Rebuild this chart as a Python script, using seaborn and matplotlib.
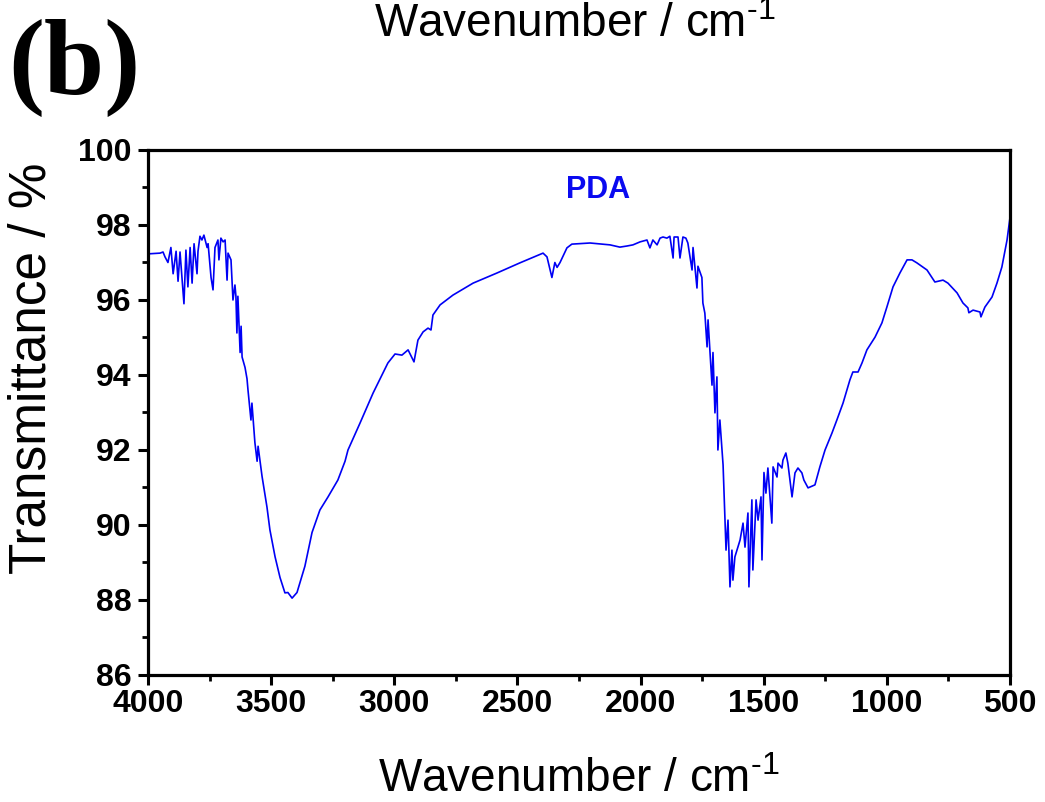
import numpy as np
import pandas as pd
import matplotlib
matplotlib.use("Agg")
import matplotlib.pyplot as plt
from matplotlib.ticker import MultipleLocator
import seaborn as sns

# ---- data ----
wavenumber = [
    4000, 3951, 3939, 3931, 3919, 3907, 3898, 3886, 3878, 3870, 3862, 3854, 3846, 3838,
    3829, 3821, 3813, 3801, 3797, 3789, 3781, 3773, 3760, 3756, 3744, 3736, 3728, 3716,
    3712, 3704, 3695, 3687, 3679, 3675, 3663, 3655, 3647, 3643, 3639, 3635, 3626, 3622,
    3618, 3606, 3598, 3594, 3582, 3578, 3566, 3557, 3553, 3537, 3517, 3505, 3484, 3464,
    3444, 3432, 3415, 3395, 3363, 3334, 3302, 3269, 3229, 3200, 3188, 3139, 3086, 3026,
    2997, 2969, 2944, 2920, 2904, 2883, 2863, 2851, 2843, 2814, 2762, 2680, 2583, 2490,
    2396, 2380, 2360, 2348, 2339, 2327, 2299, 2279, 2205, 2124, 2084, 2055, 2031, 2002,
    1974, 1962, 1950, 1933, 1921, 1909, 1893, 1881, 1868, 1864, 1848, 1840, 1828, 1816,
    1808, 1791, 1787, 1771, 1767, 1751, 1747, 1739, 1730, 1726, 1718, 1710, 1706, 1698,
    1690, 1686, 1678, 1665, 1653, 1645, 1637, 1629, 1625, 1617, 1596, 1584, 1576, 1564,
    1560, 1548, 1544, 1531, 1523, 1511, 1507, 1499, 1491, 1483, 1467, 1462, 1446, 1442,
    1426, 1422, 1410, 1402, 1385, 1373, 1361, 1345, 1337, 1320, 1292, 1272, 1251, 1223,
    1203, 1178, 1150, 1138, 1117, 1101, 1081, 1048, 1020, 1000, 975, 947, 918, 898,
    878, 837, 805, 772, 752, 715, 691, 671, 667, 650, 622, 618, 602, 573,
    553, 533, 520, 512, 500,
]
transmittance = [
    97.23, 97.25, 97.28, 97.15, 97.00, 97.40, 96.70, 97.30, 96.50, 97.28, 96.60, 95.90, 97.33, 96.35,
    97.40, 96.45, 97.50, 96.70, 97.30, 97.70, 97.60, 97.73, 97.40, 97.50, 96.60, 96.27, 97.40, 97.60,
    97.07, 97.65, 97.55, 97.60, 96.53, 97.25, 97.07, 96.00, 96.40, 96.10, 95.12, 96.10, 94.60, 95.30,
    94.48, 94.20, 93.90, 93.60, 92.80, 93.25, 92.20, 91.70, 92.10, 91.30, 90.48, 89.87, 89.15, 88.60,
    88.19, 88.20, 88.05, 88.20, 88.90, 89.80, 90.40, 90.75, 91.20, 91.70, 92.00, 92.72, 93.52, 94.32,
    94.56, 94.53, 94.67, 94.35, 94.93, 95.15, 95.25, 95.20, 95.60, 95.87, 96.13, 96.45, 96.72, 96.99,
    97.25, 97.15, 96.60, 97.00, 96.87, 97.00, 97.39, 97.49, 97.52, 97.47, 97.41, 97.44, 97.47, 97.55,
    97.60, 97.39, 97.60, 97.47, 97.65, 97.68, 97.65, 97.70, 97.12, 97.68, 97.68, 97.12, 97.68, 97.65,
    97.52, 96.80, 97.40, 96.32, 96.90, 96.60, 95.92, 95.65, 94.75, 95.47, 94.60, 93.73, 94.60, 92.99,
    93.95, 92.00, 92.80, 91.60, 89.33, 90.13, 88.35, 89.33, 88.53, 89.15, 89.60, 90.05, 89.41, 90.32,
    88.35, 90.67, 88.80, 90.67, 90.13, 90.75, 89.07, 91.40, 90.85, 91.52, 90.05, 91.55, 91.28, 91.65,
    91.52, 91.73, 91.92, 91.65, 90.75, 91.39, 91.52, 91.39, 91.20, 90.99, 91.07, 91.55, 92.00, 92.45,
    92.80, 93.25, 93.87, 94.08, 94.08, 94.32, 94.67, 95.01, 95.39, 95.81, 96.35, 96.72, 97.07, 97.07,
    96.99, 96.80, 96.48, 96.53, 96.45, 96.19, 95.92, 95.79, 95.66, 95.73, 95.68, 95.55, 95.81, 96.08,
    96.45, 96.88, 97.33, 97.60, 98.20,
]
x_ticks = [4000, 3500, 3000, 2500, 2000, 1500, 1000, 500]
y_ticks = [86, 88, 90, 92, 94, 96, 98, 100]
series_label = "PDA"
panel_label = "(b)"
x_title = "Wavenumber / cm$^{\\text{-}1}$"
y_title = "Transmittance / %"

df = pd.DataFrame({"wavenumber": wavenumber, "transmittance": transmittance})

sns.set_style("ticks")
plt.rcParams["font.family"] = ["Liberation Sans", "DejaVu Sans"]
plt.rcParams["mathtext.fontset"] = "custom"
plt.rcParams["mathtext.rm"] = "Liberation Sans"
for key in ["text.color", "axes.labelcolor", "xtick.color", "ytick.color", "axes.edgecolor"]:
    plt.rcParams[key] = "black"

fig = plt.figure(figsize=(10.45, 8.02), dpi=100)
ax = fig.add_axes([148 / 1045, 1 - 675 / 802, (1010 - 148) / 1045, (675 - 150) / 802])

sns.lineplot(data=df, x="wavenumber", y="transmittance", ax=ax, sort=False,
             estimator=None, color="#0000f5", linewidth=1.2)

ax.set_xlim(4000, 500)
ax.set_ylim(86, 100)
ax.set_xticks(x_ticks)
ax.set_yticks(y_ticks)
ax.xaxis.set_minor_locator(MultipleLocator(250))
ax.yaxis.set_minor_locator(MultipleLocator(1))
ax.tick_params(which="major", direction="out", length=7, width=2.2, labelsize=23,
               pad=3, top=False, right=False, colors="black")
ax.tick_params(axis="y", which="major", pad=5)
ax.tick_params(which="minor", direction="out", length=4, width=2.0, top=False, right=False,
               colors="black")
for lab in ax.get_xticklabels() + ax.get_yticklabels():
    lab.set_fontweight("bold")
for sp in ax.spines.values():
    sp.set_linewidth(2.3)
    sp.set_color("black")
    sp.set_visible(True)

ax.set_xlabel(x_title, fontsize=33, labelpad=28)
ax.set_ylabel(y_title, fontsize=37)
ax.yaxis.set_label_coords(-0.106, 0.585)

ax.text(2173, 98.93, series_label, color="#0a0af0", fontsize=22, fontweight="bold",
        ha="center", va="center")

# panel letter and the axis title of the panel above
fig.text(8 / 1045, 1 - 94 / 802, panel_label, fontsize=78, fontweight="bold",
         family=["Liberation Serif", "DejaVu Serif"], ha="left", va="baseline")
fig.text(575 / 1045, 1 - 37 / 802, x_title, fontsize=33, ha="center", va="baseline")

fig.savefig("out.png", dpi=100, facecolor="white")
